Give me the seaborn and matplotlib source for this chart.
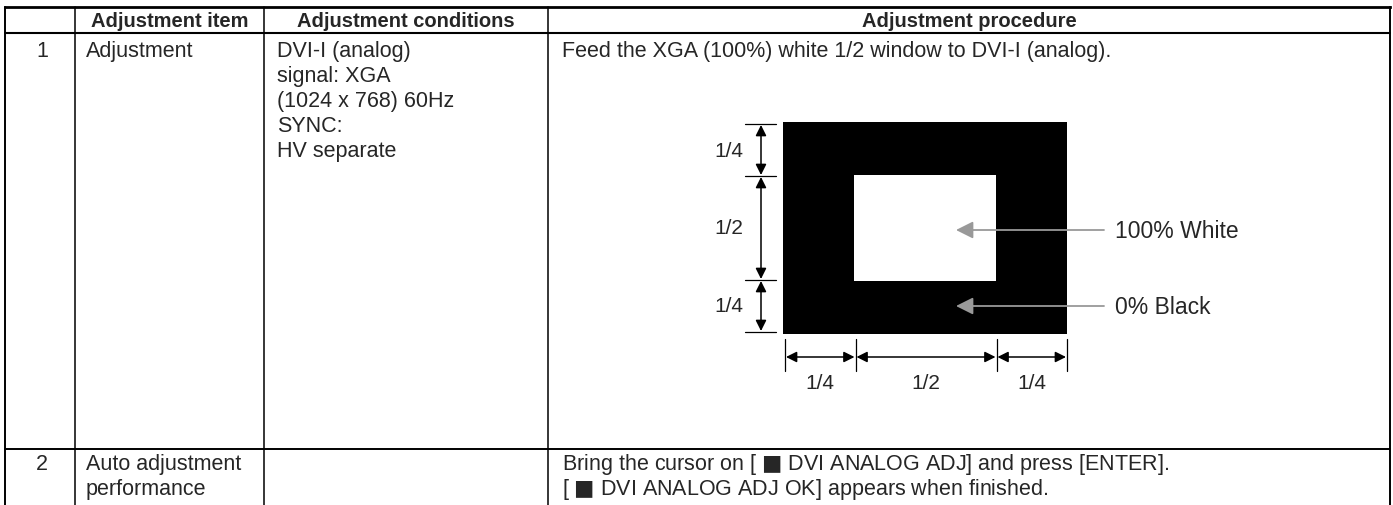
import matplotlib
matplotlib.use("Agg")
import matplotlib.pyplot as plt
import numpy as np
import seaborn as sns
from matplotlib.colors import ListedColormap

sns.set_style("white")
plt.rcParams["font.family"] = ["Liberation Sans", "DejaVu Sans"]
plt.rcParams["mathtext.fontset"] = "dejavusans"

# table content
HEADERS = ["", "Adjustment item", "Adjustment conditions", "Adjustment procedure"]
ROW_NUMS = ["1", "2"]
ITEMS = [["Adjustment"], ["Auto adjustment", "performance"]]
CONDITIONS = [["DVI-I (analog)", "signal: XGA", "(1024 x 768) 60Hz", "SYNC:", "HV separate"], []]
PROCEDURES = [
    ["Feed the XGA (100%) white 1/2 window to DVI-I (analog)."],
    [r"Bring the cursor on [ $\blacksquare$ DVI ANALOG ADJ] and press [ENTER].",
     r"[ $\blacksquare$ DVI ANALOG ADJ OK] appears when finished."],
]

# window pattern: 1/4 black, 1/2 white, 1/4 black in each direction
FRACTIONS = [0.25, 0.5, 0.25]
FRAC_LABELS = ["1/4", "1/2", "1/4"]
WINDOW = np.array([[0, 0, 0, 0],
                   [0, 1, 1, 0],
                   [0, 1, 1, 0],
                   [0, 0, 0, 0]])
AREA_LABELS = ["100% White", "0% Black"]

W, H = 1393, 506
fig = plt.figure(figsize=(W / 100, H / 100), dpi=100)

# window diagram drawn as a heatmap (pixel box of the black frame)
bx0, bx1, by0, by1 = 783, 1067, 123, 335
inset = fig.add_axes([bx0 / W, 1 - by1 / H, (bx1 - bx0) / W, (by1 - by0) / H])
sns.heatmap(WINDOW, ax=inset, cmap=ListedColormap(["black", "white"]), cbar=False,
            xticklabels=False, yticklabels=False, square=False)
inset.axis("off")

# overlay axes in pixel units for the table and annotations
ax = fig.add_axes([0, 0, 1, 1])
ax.set_zorder(3)
ax.patch.set_visible(False)
ax.set_xlim(0, W)
ax.set_ylim(H, 0)
ax.axis("off")

col_x = [5, 75, 264, 548, 1390]
row_y = [8, 34, 450]
fs = 15.5
step = 25

ax.plot([col_x[0], col_x[-1]], [row_y[0], row_y[0]], color="black", lw=2.0, solid_capstyle="projecting")
ax.plot([col_x[0], col_x[-1]], [row_y[1], row_y[1]], color="black", lw=1.5)
ax.plot([col_x[0], col_x[-1]], [row_y[2], row_y[2]], color="black", lw=1.4)
for i, x in enumerate(col_x):
    ax.plot([x, x], [row_y[0], H + 5], color="black", lw=1.4 if i in (0, 4) else 1.1)

# header
for i, h in enumerate(HEADERS):
    ax.text((col_x[i] + col_x[i + 1]) / 2, 21.5, h, ha="center", va="center",
            fontsize=14.5, fontweight="bold")

# rows
first_line = [51, 465]
for r in range(len(ROW_NUMS)):
    y0 = first_line[r]
    ax.text((col_x[0] + col_x[1]) / 2 + 2, y0, ROW_NUMS[r], ha="center", va="center", fontsize=fs)
    for k, s in enumerate(ITEMS[r]):
        ax.text(col_x[1] + 11, y0 + k * step, s, ha="left", va="center", fontsize=fs)
    for k, s in enumerate(CONDITIONS[r]):
        ax.text(col_x[2] + 13, y0 + k * step, s, ha="left", va="center", fontsize=fs)
    for k, s in enumerate(PROCEDURES[r]):
        ax.text(col_x[3] + 14, y0 + k * step, s, ha="left", va="center", fontsize=fs)

cum = np.concatenate([[0], np.cumsum(FRACTIONS)])
ys = by0 + 2 + cum * (by1 - by0 - 4)
xs = bx0 + 2 + cum * (bx1 - bx0 - 2)

arrow = dict(arrowstyle="<|-|>", color="black", lw=1.1, mutation_scale=16,
             shrinkA=0, shrinkB=0)

# vertical dimensions
vx = 761
for y in ys:
    ax.plot([vx - 16, vx + 15], [y, y], color="black", lw=0.9)
for i in range(3):
    ax.annotate("", xy=(vx, ys[i] + 1), xytext=(vx, ys[i + 1] - 1), arrowprops=arrow)
    ax.text(vx - 32, (ys[i] + ys[i + 1]) / 2, FRAC_LABELS[i], ha="center", va="center", fontsize=15)

# horizontal dimensions
hy = 358
for x in xs:
    ax.plot([x, x], [hy - 18, hy + 14], color="black", lw=0.9)
for i in range(3):
    ax.annotate("", xy=(xs[i] + 1, hy), xytext=(xs[i + 1] - 1, hy), arrowprops=arrow)
    ax.text((xs[i] + xs[i + 1]) / 2, hy + 26, FRAC_LABELS[i], ha="center", va="center", fontsize=15)

# callouts
gray_arrow = dict(arrowstyle="-|>", color="#999999", lw=1.3, mutation_scale=26,
                  shrinkA=0, shrinkB=0)
for label, y in zip(AREA_LABELS, [231, 307]):
    ax.annotate("", xy=(956, y), xytext=(1104, y), arrowprops=gray_arrow)
    ax.text(1115, y, label, ha="left", va="center", fontsize=16.5)

fig.savefig("out.png", dpi=100)
